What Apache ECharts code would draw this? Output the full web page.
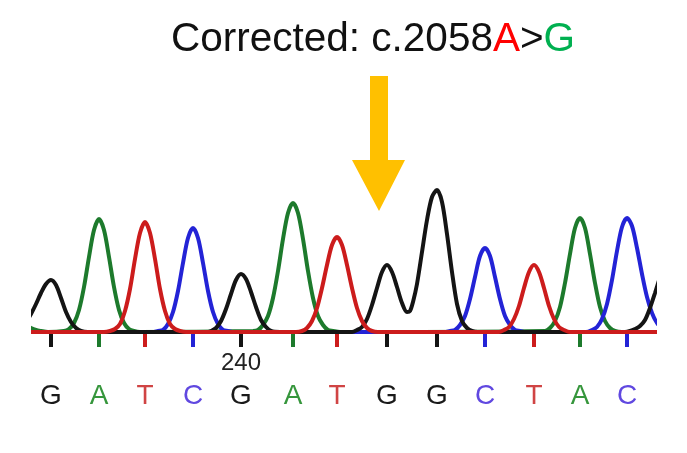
<!DOCTYPE html>
<html>
<head>
<meta charset="utf-8">
<script src="https://cdn.jsdelivr.net/npm/echarts@6/dist/echarts.min.js"></script>
<style>
  html, body { margin: 0; padding: 0; background: #fff; }
  #main { width: 687px; height: 453px; }
</style>
</head>
<body>
<div id="main"></div>
<script>
// called bases and where their peaks sit on the trace
var bases = ['G', 'A', 'T', 'C', 'G', 'A', 'T', 'G', 'G', 'C', 'T', 'A', 'C'];
var peakPos = [51, 99, 145, 193, 241, 293, 337, 387, 437, 485, 534, 580, 627];
var numberedBase = 4;
var numberLabel = '240';

// trace readings [position, signal] per dye channel
var traceG = [[16, 2], [21, 5], [26, 10], [31, 18], [36, 28], [41, 39], [46, 48], [51, 52], [56, 47], [61, 34], [66, 20], [71, 10], [76, 4], [81, 1], [88, 0],
  [206, 0], [211, 1], [216, 4], [221, 11], [226, 23], [231, 38], [236, 52], [241, 58], [246, 53], [251, 40], [256, 25], [261, 12], [266, 5], [271, 1], [280, 0],
  [352, 0], [357, 2], [362, 5], [367, 13], [372, 27], [377, 44], [382, 60], [387, 67], [392, 60], [397, 45], [402, 29], [407, 20], [410, 21],
  [413, 30], [417, 48], [422, 80], [427, 112], [432, 135], [437, 142], [442, 130], [447, 98], [452, 60], [457, 28], [462, 11], [467, 4], [472, 1], [478, 0],
  [625, 0], [630, 1], [635, 3], [640, 6], [645, 12], [650, 24], [655, 39], [660, 55], [665, 70], [670, 80]];
var traceA = [[16, 14], [21, 10], [26, 7], [31, 4], [36, 2], [41, 1], [48, 0],
  [64, 1], [69, 3], [74, 9], [79, 22], [84, 45], [89, 75], [94, 102], [99, 113], [104, 102], [109, 75], [114, 45], [119, 22], [124, 9], [129, 3], [134, 1], [140, 0],
  [253, 1], [258, 2], [263, 7], [268, 16], [273, 34], [278, 61], [283, 93], [288, 119], [293, 129], [298, 119], [303, 93], [308, 61], [313, 34], [318, 16], [323, 7], [328, 2], [333, 1], [340, 0],
  [545, 1], [550, 4], [555, 11], [560, 25], [565, 49], [570, 78], [575, 104], [580, 114], [585, 104], [590, 78], [595, 49], [600, 25], [605, 11], [610, 4], [615, 1], [622, 0],
  [670, 0]];
var traceT = [[16, 0], [104, 0], [110, 1], [115, 3], [120, 8], [125, 21], [130, 43], [135, 73], [140, 99], [145, 110], [150, 99], [155, 73], [160, 43], [165, 21], [170, 8], [175, 3], [180, 1], [186, 0],
  [296, 0], [302, 1], [307, 4], [312, 11], [317, 24], [322, 44], [327, 67], [332, 87], [337, 95], [342, 87], [347, 67], [352, 44], [357, 24], [362, 11], [367, 4], [372, 1], [378, 0],
  [499, 0], [504, 2], [509, 5], [514, 13], [519, 26], [524, 44], [529, 60], [534, 67], [539, 60], [544, 44], [549, 26], [554, 13], [559, 5], [564, 2], [570, 0], [670, 0]];
var traceC = [[16, 0], [152, 0], [158, 1], [163, 2], [168, 8], [173, 20], [178, 41], [183, 69], [188, 94], [193, 104], [198, 94], [203, 69], [208, 41], [213, 20], [218, 8], [223, 2], [228, 1], [234, 0],
  [444, 0], [450, 1], [455, 2], [460, 7], [465, 16], [470, 33], [475, 55], [480, 76], [485, 84], [490, 76], [495, 55], [500, 33], [505, 16], [510, 7], [515, 2], [520, 1], [526, 0],
  [586, 0], [592, 2], [597, 5], [602, 13], [607, 28], [612, 52], [617, 81], [622, 105], [627, 114], [632, 106], [637, 84], [642, 58], [647, 35], [652, 19], [657, 9], [662, 4], [670, 1]];

var traceColor = { G: '#141414', A: '#1d7a2c', T: '#cc1c1c', C: '#2323d6' };
var letterColor = { G: '#1a1a1a', A: '#36963c', T: '#d04444', C: '#6048e0' };

var font = '"Liberation Sans", Arial, sans-serif';

var tickData = peakPos.map(function (p, i) {
  var item = { value: [p, -8], itemStyle: { color: traceColor[bases[i]], opacity: 1 } };
  if (i === numberedBase) {
    item.label = {
      show: true, position: 'bottom', distance: 4, formatter: numberLabel,
      fontSize: 24, color: '#222', fontFamily: font
    };
  }
  return item;
});

function trace(name, data) {
  return {
    name: name, type: 'line', data: data, smooth: 0.3, showSymbol: false,
    lineStyle: { width: 4, color: traceColor[name] }, silent: true, clip: true
  };
}

var letterRich = {};
Object.keys(letterColor).forEach(function (b) {
  letterRich[b] = { color: letterColor[b], fontSize: 28, lineHeight: 28, fontFamily: font };
});

function titlePart(color) {
  return { color: color, fontSize: 40.5, lineHeight: 44, fontWeight: 'normal', fontFamily: font };
}

var options = {
  animation: false,
  backgroundColor: '#fff',
  title: {
    text: '{k|Corrected: c.2058}{r|A}{k|>}{g|G}',
    left: 171, top: 18, padding: 0,
    textStyle: {
      fontWeight: 'normal',
      rich: { k: titlePart('#111'), r: titlePart('#ff0000'), g: titlePart('#00b050') }
    }
  },
  grid: { left: 33, right: 32, top: 172, bottom: 105 },
  xAxis: {
    type: 'value', min: 33, max: 655,
    axisLine: { show: false, onZero: false },
    axisTick: { show: false },
    splitLine: { show: false },
    axisLabel: {
      customValues: peakPos,
      margin: 34,
      formatter: function (v) {
        var i = peakPos.indexOf(v);
        return i < 0 ? '' : '{' + bases[i] + '|' + bases[i] + '}';
      },
      rich: letterRich
    }
  },
  yAxis: { type: 'value', min: -16, max: 160, show: false },
  graphic: [{
    type: 'polygon',
    shape: { points: [[370, 76], [388, 76], [388, 160], [405, 160], [379, 211], [352, 160], [370, 160]] },
    style: { fill: '#ffc000' }
  }],
  series: [
    trace('A', traceA),
    trace('C', traceC),
    trace('G', traceG),
    trace('T', traceT),
    {
      type: 'scatter', data: tickData, symbol: 'rect', symbolSize: [4, 14], silent: true,
      itemStyle: { opacity: 1 }
    }
  ]
};

var chart = echarts.init(document.getElementById('main'));
chart.setOption(options);
</script>
</body>
</html>
